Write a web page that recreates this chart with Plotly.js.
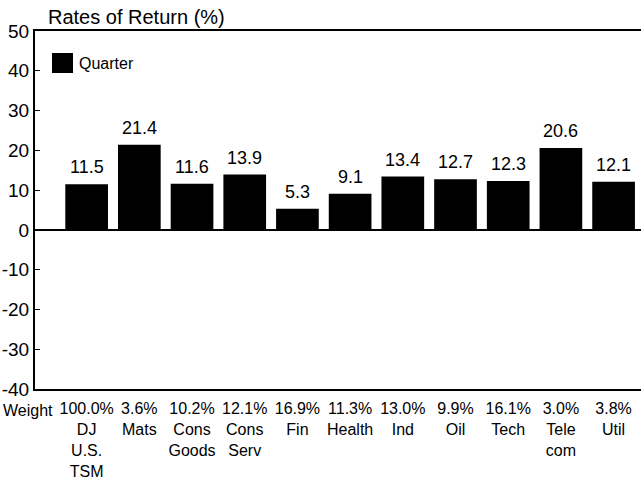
<!DOCTYPE html>
<html><head><meta charset="utf-8">
<script src="https://cdn.plot.ly/plotly-3.0.1.min.js"></script>
<style>html,body{margin:0;padding:0;background:#fff;}#c{width:641px;height:491px;}</style>
</head><body><div id="c"></div>
<script>
const weights = ["100.0%","3.6%","10.2%","12.1%","16.9%","11.3%","13.0%","9.9%","16.1%","3.0%","3.8%"];
const sectors = ["DJ<br>U.S.<br>TSM","Mats","Cons<br>Goods","Cons<br>Serv","Fin","Health","Ind","Oil","Tech","Tele<br>com","Util"];
const quarter = [11.5,21.4,11.6,13.9,5.3,9.1,13.4,12.7,12.3,20.6,12.1];
const yTicks = [50,40,30,20,10,0,-10,-20,-30,-40];
const yTickText = ["50","40","30","20","10","0","-10","-20","-30","-40"];
const seriesName = "Quarter";

const FONT = "Liberation Sans, Arial, sans-serif";
const xs = quarter.map((_, i) => i);
const tickLabels = weights.map((w, i) => w + "<br>" + sectors[i]);

const trace = {
  type: "bar", x: xs, y: quarter, name: seriesName,
  marker: {color: "#000", line: {width: 0}},
  width: 0.81, hoverinfo: "none", showlegend: false
};
const ann = quarter.map((v, i) => ({
  x: i, y: v, xref: "x", yref: "y", text: v.toFixed(1), showarrow: false,
  yanchor: "bottom", yshift: 5, font: {family: FONT, size: 18, color: "#000"}
}));
ann.push({x: 0, xref: "paper", xanchor: "right", xshift: 20, y: 0, yref: "paper", yanchor: "top", yshift: -11,
  text: "Weight", showarrow: false, font: {family: FONT, size: 16, color: "#000"}});

const W = 641, H = 491, ML = 35, MT = 31, MB = 102;
const pw = W - ML, ph = H - MT - MB;
const px = v => (v - ML) / pw;
const py = v => 1 - (v - MT) / ph;
// legend entry
ann.push({x: px(77), xref: "paper", y: py(63), yref: "paper", showarrow: false, text: seriesName,
  xanchor: "left", yanchor: "middle", font: {family: FONT, size: 16, color: "#000"}});

const layout = {
  width: W, height: H,
  margin: {l: ML, r: 0, t: MT, b: MB},
  paper_bgcolor: "#fff", plot_bgcolor: "#fff",
  font: {family: FONT, color: "#000"},
  title: {text: "Rates of Return (%)", x: 48/641, xanchor: "left", y: 0.965, yanchor: "middle",
    font: {family: FONT, size: 20, color: "#000"}},
  showlegend: false,
  shapes: [{type: "rect", xref: "paper", yref: "paper", x0: px(52), x1: px(73), y0: py(53), y1: py(73),
    fillcolor: "#000", line: {width: 0}}],
  xaxis: {range: [-0.98, 10.52], tickvals: xs, ticktext: tickLabels, ticks: "", showgrid: false,
    zeroline: false, showline: true, linecolor: "#000", linewidth: 2, mirror: true,
    ticklabelstandoff: 4,
    tickfont: {family: FONT, size: 16, color: "#000"}, tickangle: 0, fixedrange: true},
  yaxis: {range: [-40, 50], tickvals: yTicks, ticktext: yTickText, ticks: "inside", ticklen: 5,
    tickwidth: 1, tickcolor: "#000", showgrid: false, zeroline: true, zerolinecolor: "#000", zerolinewidth: 2,
    showline: true, linecolor: "#000", linewidth: 2,
    tickfont: {family: FONT, size: 19, color: "#000"}, fixedrange: true},
  annotations: ann, bargap: 0.2
};
Plotly.newPlot("c", [trace], layout, {displayModeBar: false, staticPlot: true});
</script></body></html>
